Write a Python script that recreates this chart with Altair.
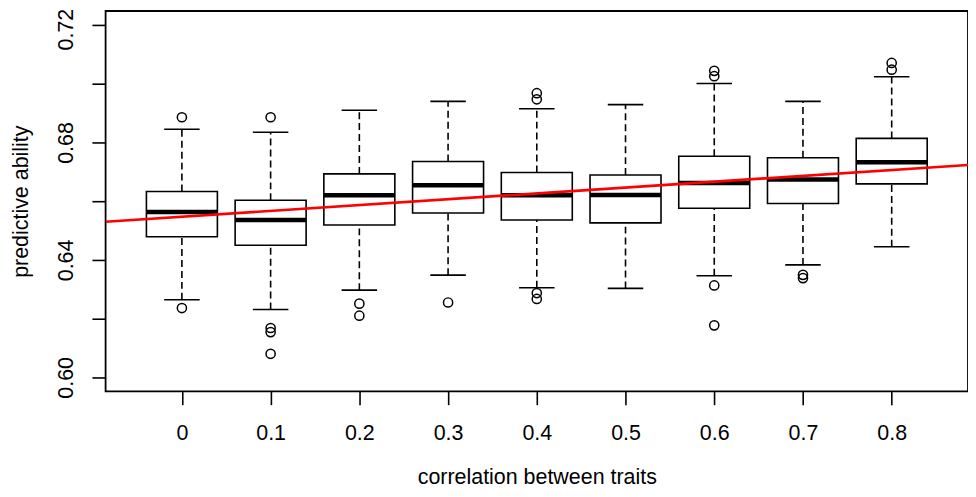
import altair as alt
import pandas as pd

# correlation between traits (categories)
corr = [0.0, 0.1, 0.2, 0.3, 0.4, 0.5, 0.6, 0.7, 0.8]
# box statistics
lower_whisker = [0.6264, 0.6231, 0.6297, 0.6348, 0.6305, 0.6303, 0.6346, 0.6383, 0.6445]
q1 = [0.6479, 0.6450, 0.6519, 0.6560, 0.6536, 0.6526, 0.6576, 0.6592, 0.6659]
median = [0.6563, 0.6536, 0.6620, 0.6654, 0.6620, 0.6621, 0.6662, 0.6674, 0.6733]
q3 = [0.6633, 0.6603, 0.6693, 0.6735, 0.6698, 0.6689, 0.6753, 0.6748, 0.6814]
upper_whisker = [0.6845, 0.6835, 0.6910, 0.6940, 0.6915, 0.6929, 0.7001, 0.6940, 0.7024]

# outliers
outlier_corr = [0.0, 0.0, 0.1, 0.1, 0.1, 0.1, 0.2, 0.2, 0.3, 0.4, 0.4, 0.4, 0.4,
                0.6, 0.6, 0.6, 0.6, 0.7, 0.7, 0.8, 0.8]
outlier_value = [0.6886, 0.6236, 0.6886, 0.6168, 0.6154, 0.6080, 0.6251, 0.6210, 0.6255,
                 0.6968, 0.6947, 0.6287, 0.6267, 0.7044, 0.7026, 0.6313, 0.6177,
                 0.6349, 0.6338, 0.7071, 0.7048]

# regression line (abline)
fit_intercept = 0.6547
fit_slope = 0.0199

x_domain = [-0.086, 0.886]
y_domain = [0.5952, 0.7248]
y_ticks = [0.60, 0.62, 0.64, 0.66, 0.68, 0.70, 0.72]

FONT = "Liberation Sans"
FS = 21.5

boxes = pd.DataFrame({
    "corr": corr, "lo": lower_whisker, "q1": q1, "med": median,
    "q3": q3, "hi": upper_whisker,
})
outs = pd.DataFrame({"corr": outlier_corr, "value": outlier_value})
fit = pd.DataFrame({
    "corr": x_domain,
    "value": [fit_intercept + fit_slope * v for v in x_domain],
})

x_axis = alt.Axis(
    values=corr, format=".1~f", title="correlation between traits",
    domain=False, grid=False, tickSize=13.3, tickWidth=1.6, tickColor="black",
    labelFontSize=FS, labelFont=FONT, labelColor="black", labelBaseline="alphabetic",
    labelPadding=35.4, titleFontSize=FS, titleFont=FONT, titleFontWeight="normal",
    titleColor="black", titleBaseline="alphabetic", titleY=92, titleX=433,
    titleAlign="center", labelFlush=False, labelOverlap=False,
)
y_axis = alt.Axis(
    values=y_ticks, title="predictive ability",
    labelExpr="(round(datum.value*100) % 4 == 0) ? format(datum.value, '.2f') : ''",
    domain=False, grid=False, tickSize=13.7, tickWidth=1.6, tickColor="black",
    labelFontSize=FS, labelFont=FONT, labelColor="black", labelAngle=-90,
    labelAlign="center", labelBaseline="alphabetic", labelPadding=20,
    labelOffset={"condition": {"test": "datum.value > 0.71", "value": 4}, "value": 0},
    titleFontSize=FS, titleFont=FONT, titleFontWeight="normal", titleColor="black",
    titleAngle=-90, titleBaseline="alphabetic", titleAlign="center",
    titleX=-78, titleY=191, labelFlush=False, labelOverlap=False,
)

xs = alt.Scale(domain=x_domain, nice=False, zero=False)
ys = alt.Scale(domain=y_domain, nice=False, zero=False)

base = alt.Chart(boxes).transform_calculate(
    left="datum.corr - 0.04", right="datum.corr + 0.04",
    sl="datum.corr - 0.02", sr="datum.corr + 0.02",
)

whisk_lo = base.mark_rule(color="black", strokeWidth=1.6, strokeDash=[7, 4]).encode(
    x=alt.X("corr:Q", scale=xs, axis=x_axis),
    y=alt.Y("lo:Q", scale=ys, axis=y_axis), y2="q1:Q")
whisk_hi = base.mark_rule(color="black", strokeWidth=1.6, strokeDash=[7, 4]).encode(
    x=alt.X("corr:Q", scale=xs), y=alt.Y("q3:Q", scale=ys), y2="hi:Q")
staple_lo = base.mark_rule(color="black", strokeWidth=1.6).encode(
    x=alt.X("sl:Q", scale=xs), x2="sr:Q", y=alt.Y("lo:Q", scale=ys))
staple_hi = base.mark_rule(color="black", strokeWidth=1.6).encode(
    x=alt.X("sl:Q", scale=xs), x2="sr:Q", y=alt.Y("hi:Q", scale=ys))
box = base.mark_rect(fill="white", stroke="black", strokeWidth=1.6).encode(
    x=alt.X("left:Q", scale=xs), x2="right:Q", y=alt.Y("q1:Q", scale=ys), y2="q3:Q")
med = base.mark_rule(color="black", strokeWidth=4.5).encode(
    x=alt.X("left:Q", scale=xs), x2="right:Q", y=alt.Y("med:Q", scale=ys))
pts = alt.Chart(outs).mark_point(shape="circle", filled=False, size=85,
                                 color="black", strokeWidth=1.5, opacity=1).encode(
    x=alt.X("corr:Q", scale=xs), y=alt.Y("value:Q", scale=ys))
line = alt.Chart(fit).mark_line(color="#ff0000", strokeWidth=2.7, clip=True).encode(
    x=alt.X("corr:Q", scale=xs), y=alt.Y("value:Q", scale=ys))

chart = alt.layer(whisk_lo, whisk_hi, staple_lo, staple_hi, box, med, pts, line).properties(
    width=866, height=382,
    autosize=alt.AutoSizeParams(type="none"),
    padding={"left": 98, "top": 2, "right": 0, "bottom": 97},
    background="white",
).configure(
    font=FONT,
    view=alt.ViewConfig(stroke="black", strokeWidth=1.8),
)

chart.save("out.html", embed_options={"renderer": "svg", "actions": False})
